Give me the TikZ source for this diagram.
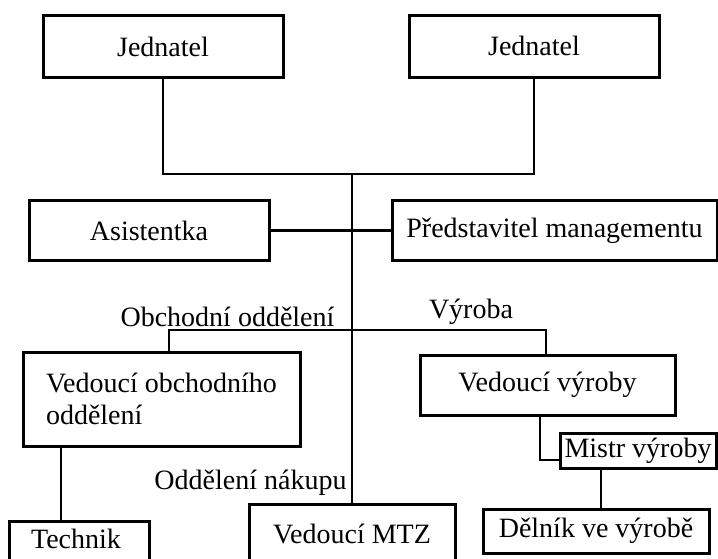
\documentclass[tikz,border=0pt]{standalone}
\usepackage{fontspec}
\setmainfont{Liberation Serif}
\begin{document}
\begin{tikzpicture}[x=1pt,y=-1pt,
  box/.style={draw=black, line width=3pt, rectangle, inner sep=0pt, align=center},
  cutbox/.style={draw=black, line width=3pt, rectangle, anchor=north, inner xsep=0pt, inner ysep=4pt},
  conn/.style={draw=black, line width=2.4pt},
  lbl/.style={inner sep=0pt},
  every node/.append style={font=\fontsize{28}{32}\selectfont}]
\clip (0,0) rectangle (718,559);
\fill[white] (0,0) rectangle (718,559);
% boxes
\node[box, minimum width=240, minimum height=62] (j1) at (163,47) {Jednatel};
\node[box, minimum width=250, minimum height=62] (j2) at (534,47) {\raisebox{3pt}{Jednatel}};
\node[box, minimum width=240, minimum height=59] (as) at (149,230.5) {Asistentka};
\node[box, minimum width=325, minimum height=59] (pm) at (554.5,230.5) {Představitel managementu};
\node[box, minimum width=277, minimum height=94, align=left] (vo) at (161.5,399) {Vedoucí obchodního\\oddělení\hspace*{4.6em}};
\node[box, minimum width=255, minimum height=60] (vv) at (547.5,385) {Vedoucí výroby};
\node[box, minimum width=156, minimum height=35] (mi) at (638,450.5) {Mistr výroby};
\node[box, minimum width=226, minimum height=44] (de) at (596,531) {Dělník ve výrobě};
\node[cutbox, minimum width=140, text height=23, text depth=40] (te) at (79,520) {\hspace*{-6pt}Technik};
\node[cutbox, minimum width=206, text height=35, text depth=40] (mtz) at (352,503) {Vedoucí MTZ};
% labels
\node[lbl] (lob) at (227.5,317) {Obchodní oddělení};
\node[lbl] (lvy) at (471,312) {Výroba};
\node[lbl] (lna) at (250.5,483) {Oddělení nákupu};
% coordinates
\coordinate (top) at (352,174);
\coordinate (bl) at (169,330);
\coordinate (br) at (546,330);
\coordinate (tl) at (61,0);
\coordinate (vm) at (540,460);
\coordinate (md) at (601,0);
% connectors
\draw[conn] (j1.south) |- (top) -| (j2.south);
\draw[conn] (top) -- (mtz.north);
\draw[conn] (as.east) -- (pm.west);
\draw[conn] (vo.north -| bl) -- (bl) -- (br) -- (vv.north -| br);
\draw[conn] (vo.south -| tl) -- (te.north -| tl);
\draw[conn] (vv.south -| vm) -- (vm) -- (mi.west |- vm);
\draw[conn] (mi.south -| md) -- (de.north -| md);
\end{tikzpicture}
\end{document}
